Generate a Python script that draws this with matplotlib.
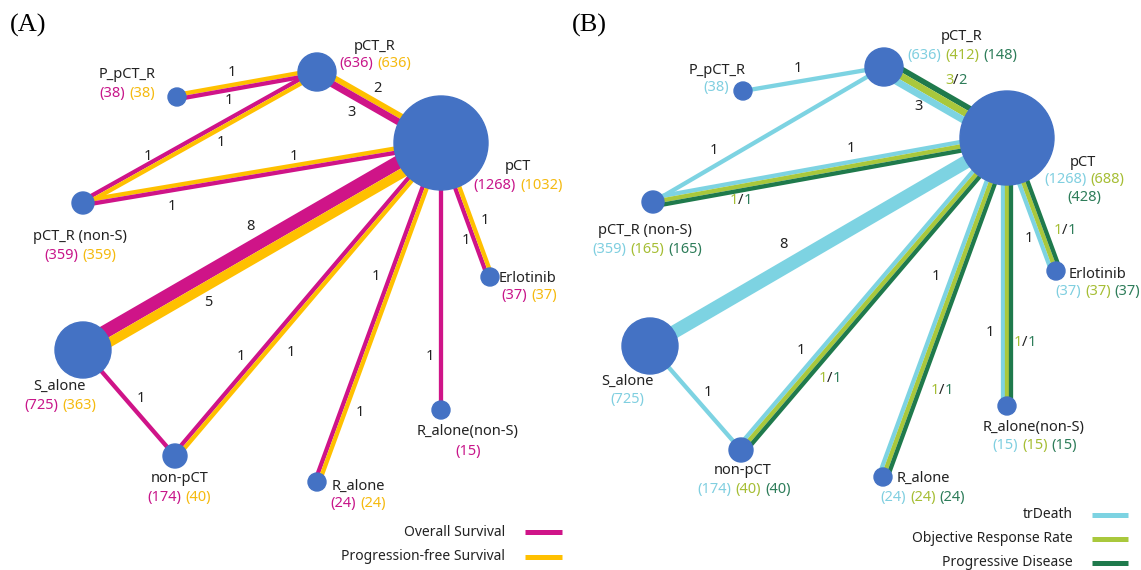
import numpy as np
import matplotlib.pyplot as plt

plt.rcParams['font.family'] = ['Noto Sans', 'DejaVu Sans']

# treatments (same nodes in both networks)
nodes = ["pCT", "pCT_R", "P_pCT_R", "pCT_R (non-S)", "Erlotinib",
         "S_alone", "non-pCT", "R_alone", "R_alone(non-S)"]

# patients per treatment, network A
os_n = [1268, 636, 38, 359, 37, 725, 174, 24, 15]
pfs_n = [1032, 636, 38, 359, 37, 363, 40, 24, None]

# patients per treatment, network B
trd_n = [1268, 636, 38, 359, 37, 725, 174, 24, 15]
orr_n = [688, 412, None, 165, 37, None, 40, 24, 15]
pd_n = [428, 148, None, 165, 37, None, 40, 24, 15]

# direct comparisons and number of studies per outcome
edges = [("P_pCT_R", "pCT_R"), ("pCT_R", "pCT"), ("pCT_R (non-S)", "pCT_R"),
         ("pCT_R (non-S)", "pCT"), ("S_alone", "pCT"), ("S_alone", "non-pCT"),
         ("non-pCT", "pCT"), ("R_alone", "pCT"), ("R_alone(non-S)", "pCT"),
         ("Erlotinib", "pCT")]
os_k = [1, 3, 1, 1, 8, 1, 1, 1, 1, 1]
pfs_k = [1, 2, 1, 1, 5, 0, 1, 1, 0, 1]
trd_k = [1, 3, 1, 1, 8, 1, 1, 1, 1, 1]
orr_k = [0, 3, 0, 1, 0, 0, 1, 1, 1, 1]
pd_k = [0, 2, 0, 1, 0, 0, 1, 1, 1, 1]

# ---- styling / layout (pixel coordinates, y down) ----
W, H = 1141, 570
NODE = '#4472C4'
C_OS, C_PFS = '#CF1488', '#FFC000'
C_TRD, C_ORR, C_PD = '#7DD3E2', '#A9C83C', '#1F7A4C'
T_OS, T_PFS = '#C8168A', '#F5BA10'
T_TRD, T_ORR, T_PD = '#80CFE0', '#A6BE35', '#2E7D5A'
TXT = '#222222'

radius = {"pCT": 47, "pCT_R": 19, "P_pCT_R": 9, "pCT_R (non-S)": 11, "Erlotinib": 9,
          "S_alone": 28, "non-pCT": 12, "R_alone": 9, "R_alone(non-S)": 9}

pos_A = {"pCT": (441, 143), "pCT_R": (317, 72), "P_pCT_R": (177, 97),
         "pCT_R (non-S)": (83, 203), "Erlotinib": (490, 277), "S_alone": (83, 350),
         "non-pCT": (175, 456), "R_alone": (317, 482), "R_alone(non-S)": (441, 410)}
pos_B = {"pCT": (1007, 138), "pCT_R": (884, 67), "P_pCT_R": (743, 91),
         "pCT_R (non-S)": (653, 202), "Erlotinib": (1056, 271), "S_alone": (650, 346),
         "non-pCT": (741, 450), "R_alone": (883, 477), "R_alone(non-S)": (1007, 406)}

# (name position, numbers position)
lab_A = {"pCT": ((518, 167), (518, 186)), "pCT_R": ((375, 47), (375, 64)),
         "P_pCT_R": ((127, 74), (127, 93)), "pCT_R (non-S)": ((80, 237), (80, 255)),
         "Erlotinib": ((528, 278), (529, 296)), "S_alone": ((60, 386), (60, 405)),
         "non-pCT": ((180, 479), (179, 498)), "R_alone": ((358, 486), (358, 504)),
         "R_alone(non-S)": ((468, 432), (468, 451))}
lab_B = {"pCT": ((1083, 162), (1084, 180)), "pCT_R": ((962, 37), (962, 55)),
         "P_pCT_R": ((717, 70), (716, 88)), "pCT_R (non-S)": ((645, 231), (647, 249)),
         "Erlotinib": ((1097, 274), (1098, 292)), "S_alone": ((627, 381), (627, 400)),
         "non-pCT": ((743, 471), (744, 489)), "R_alone": ((923, 478), (923, 497)),
         "R_alone(non-S)": ((1034, 427), (1035, 445))}

# which series lies on the left of source->target in network A
order_A = ['pfs', 'pfs', 'os', 'pfs', 'os', 'os', 'os', 'os', 'os', 'os']

os_lab = [(229, 101), (352, 112), (148, 157), (172, 206), (250, 227), (141, 398),
          (241, 356), (376, 276), (430, 356), (466, 241)]
pfs_lab = [(232, 73), (377, 88), (221, 143), (294, 157), (208, 302), None,
           (291, 352), (360, 413), None, (485, 221)]
trd_lab = [(798, 68), (919, 106), (714, 150), (851, 148), (783, 245), (708, 393),
           (801, 351), (936, 276), (990, 333), (1029, 238)]
rp_lab = [None, (956, 81), None, (741, 201), None, None, (830, 378), (942, 390),
          (1025, 342), (1065, 231)]

FS = 10.5
fig = plt.figure(figsize=(W / 100, H / 100), dpi=100)
ax = fig.add_axes([0, 0, 1, 1])
ax.set_xlim(0, W)
ax.set_ylim(H, 0)
ax.axis('off')
renderer = fig.canvas.get_renderer()


def px_width(k):
    return 3.0 + 1.3 * k


def draw_edge(p, q, ks, colors):
    p, q = np.array(p, float), np.array(q, float)
    d = (q - p) / np.linalg.norm(q - p)
    n = np.array([-d[1], d[0]])
    ws = [px_width(k) if k > 0 else 0 for k in ks]
    off = -sum(ws) / 2
    for w, c in zip(ws, colors):
        if w == 0:
            continue
        o = off + w / 2
        a, b = p + n * o, q + n * o
        ax.plot([a[0], b[0]], [a[1], b[1]], color=c, lw=w * 0.72,
                solid_capstyle='butt', zorder=1)
        off += w


def colored_text(x, y, pieces, size=FS, gap=4):
    widths = []
    for s, c in pieces:
        t = ax.text(0, 0, s, fontsize=size)
        widths.append(t.get_window_extent(renderer).width)
        t.remove()
    x0 = x - (sum(widths) + gap * (len(widths) - 1)) / 2
    for (s, c), w in zip(pieces, widths):
        ax.text(x0, y, s, color=c, fontsize=size, ha='left', va='center')
        x0 += w + gap


def ratio_label(x, y, a, b):
    ax.text(x, y, '/', color=TXT, fontsize=FS, ha='center', va='center')
    ax.text(x - 2.5, y, str(a), color=T_ORR, fontsize=FS, ha='right', va='center')
    ax.text(x + 2.5, y, str(b), color=T_PD, fontsize=FS, ha='left', va='center')


# ---- network A ----
for i, (s, t) in enumerate(edges):
    if order_A[i] == 'pfs':
        draw_edge(pos_A[s], pos_A[t], [pfs_k[i], os_k[i]], [C_PFS, C_OS])
    else:
        draw_edge(pos_A[s], pos_A[t], [os_k[i], pfs_k[i]], [C_OS, C_PFS])
    if os_k[i]:
        ax.text(*os_lab[i], str(os_k[i]), fontsize=FS, color=TXT, ha='center', va='center')
    if pfs_k[i]:
        ax.text(*pfs_lab[i], str(pfs_k[i]), fontsize=FS, color=TXT, ha='center', va='center')

for j, name in enumerate(nodes):
    ax.add_patch(plt.Circle(pos_A[name], radius[name], color=NODE, zorder=3))
    (nx, ny), (vx, vy) = lab_A[name]
    ax.text(nx, ny, name, fontsize=FS, color=TXT, ha='center', va='center')
    pieces = [(f'({os_n[j]})', T_OS)]
    if pfs_n[j] is not None:
        pieces.append((f'({pfs_n[j]})', T_PFS))
    colored_text(vx, vy, pieces)

# ---- network B ----
for i, (s, t) in enumerate(edges):
    ks = [trd_k[i], orr_k[i], pd_k[i]]
    cs = [C_TRD, C_ORR, C_PD]
    if i == 1:
        ks, cs = ks[::-1], cs[::-1]
    draw_edge(pos_B[s], pos_B[t], ks, cs)
    ax.text(*trd_lab[i], str(trd_k[i]), fontsize=FS, color=TXT, ha='center', va='center')
    if orr_k[i]:
        ratio_label(*rp_lab[i], orr_k[i], pd_k[i])

for j, name in enumerate(nodes):
    ax.add_patch(plt.Circle(pos_B[name], radius[name], color=NODE, zorder=3))
    (nx, ny), (vx, vy) = lab_B[name]
    ax.text(nx, ny, name, fontsize=FS, color=TXT, ha='center', va='center')
    pieces = [(f'({trd_n[j]})', T_TRD)]
    if orr_n[j] is not None:
        pieces.append((f'({orr_n[j]})', T_ORR))
    if pd_n[j] is not None:
        pieces.append((f'({pd_n[j]})', T_PD))
    if name == "pCT":
        colored_text(vx, vy, pieces[:2])
        colored_text(vx, vy + 18, pieces[2:])
    else:
        colored_text(vx, vy, pieces)

# ---- panel letters ----
ax.text(10, 25, '(A)', fontsize=19, family='Liberation Serif', ha='left', va='center')
ax.text(572, 25, '(B)', fontsize=19, family='Liberation Serif', ha='left', va='center')

# ---- legends ----
for y, lab, c in [(532, 'Overall Survival', C_OS), (557, 'Progression-free Survival', C_PFS)]:
    ax.text(505, y, lab, fontsize=10, color=TXT, ha='right', va='center')
    ax.plot([525, 562], [y, y], color=c, lw=5 * 0.72, solid_capstyle='butt')
for y, lab, c in [(515, 'trDeath', C_TRD), (539, 'Objective Response Rate', C_ORR),
                  (563, 'Progressive Disease', C_PD)]:
    ax.text(1073, y, lab, fontsize=10, color=TXT, ha='right', va='center')
    ax.plot([1092, 1128], [y, y], color=c, lw=5 * 0.72, solid_capstyle='butt')

fig.savefig('out.png', dpi=100)
